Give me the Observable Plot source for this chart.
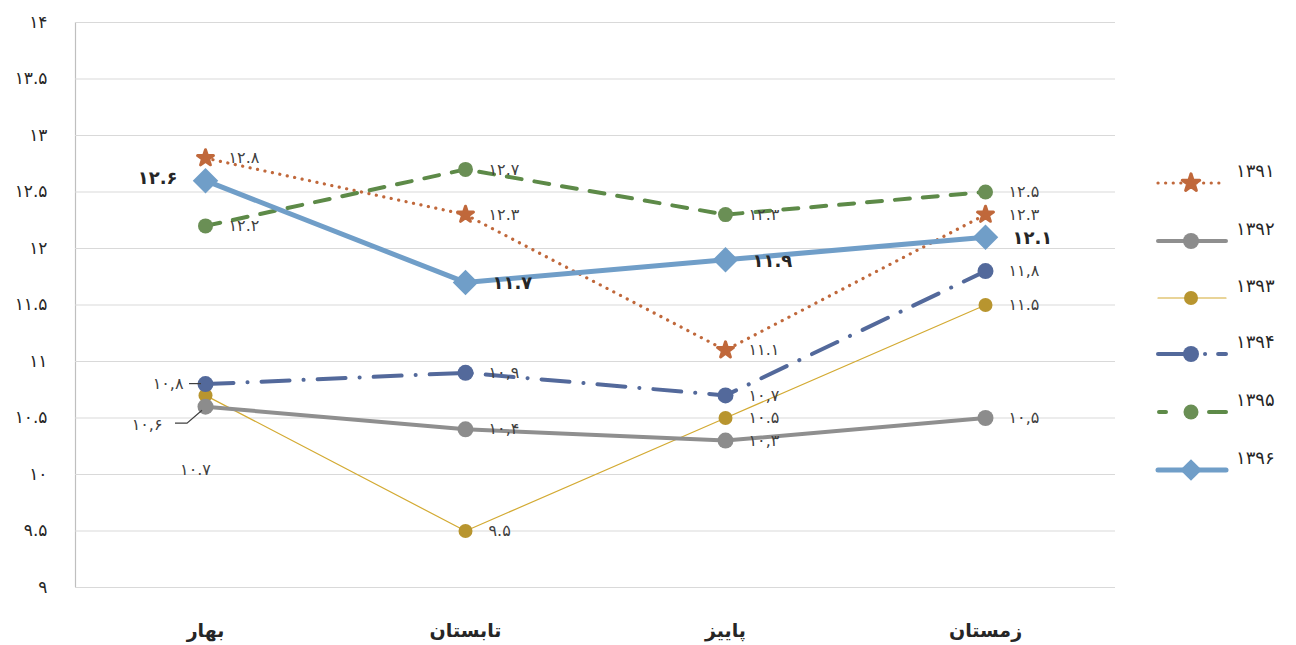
<!DOCTYPE html>
<html>
<head>
<meta charset="utf-8">
<script src="https://cdn.jsdelivr.net/npm/d3@7"></script>
<script src="https://cdn.jsdelivr.net/npm/@observablehq/plot@0.6"></script>
<style>
  html, body { margin: 0; padding: 0; background: #fff; }
  #wrap { position: relative; width: 1296px; height: 645px; }
  #legend { position: absolute; left: 0; top: 0; pointer-events: none; }
</style>
</head>
<body>
<div id="wrap"></div>
<script>
// ---- data ----
const seasons = ["بهار", "تابستان", "پاییز", "زمستان"];
const years = ["۱۳۹۱", "۱۳۹۲", "۱۳۹۳", "۱۳۹۴", "۱۳۹۵", "۱۳۹۶"];
const v1391 = [12.8, 12.3, 11.1, 12.3];
const v1392 = [10.6, 10.4, 10.3, 10.5];
const v1393 = [10.7, 9.5, 10.5, 11.5];
const v1394 = [10.8, 10.9, 10.7, 11.8];
const v1395 = [12.2, 12.7, 12.3, 12.5];
const v1396 = [12.6, 11.7, 11.9, 12.1];
const l1391 = ["۱۲.۸", "۱۲.۳", "۱۱.۱", "۱۲.۳"];
const l1392 = ["۱۰,۶", "۱۰,۴", "۱۰,۳", "۱۰,۵"];
const l1393 = ["۱۰.۷", "۹.۵", "۱۰.۵", "۱۱.۵"];
const l1394 = ["۱۰,۸", "۱۰,۹", "۱۰,۷", "۱۱,۸"];
const l1395 = ["۱۲.۲", "۱۲.۷", "۱۲.۳", "۱۲.۵"];
const l1396 = ["۱۲.۶", "۱۱.۷", "۱۱.۹", "۱۲.۱"];
const yTicks = [9, 9.5, 10, 10.5, 11, 11.5, 12, 12.5, 13, 13.5, 14];

const seriesValues = [v1391, v1392, v1393, v1394, v1395, v1396];
const seriesLabels = [l1391, l1392, l1393, l1394, l1395, l1396];

// ---- styles ----
const styles = {
  "۱۳۹۱": {stroke: "#c0683b", width: 3.2, dash: "0.1 7.5", cap: "round", mark: "star", mfill: "#c0683b", r: 5},
  "۱۳۹۲": {stroke: "#8f8f8f", width: 4, dash: null, cap: "round", mark: "circle", mfill: "#8c8c8c", r: 8},
  "۱۳۹۳": {stroke: "#d3aa32", width: 1.2, dash: null, cap: "round", mark: "circle", mfill: "#b8952f", r: 7},
  "۱۳۹۴": {stroke: "#53699b", width: 4, dash: "28 14 0.1 14", cap: "round", mark: "circle", mfill: "#53699b", r: 8},
  "۱۳۹۵": {stroke: "#5d8a48", width: 4, dash: "15 13", cap: "round", mark: "circle", mfill: "#6a8f55", r: 7.5},
  "۱۳۹۶": {stroke: "#709ec8", width: 5, dash: null, cap: "round", mark: "diamond2", mfill: "#709ec8", r: 11.5}
};

const rows = [];
years.forEach((yr, i) => {
  seasons.forEach((s, j) => {
    rows.push({year: yr, season: s, value: seriesValues[i][j], label: seriesLabels[i][j]});
  });
});

const fa = s => String(s).replace(/[0-9]/g, d => "۰۱۲۳۴۵۶۷۸۹"[+d]);
const FONT = "DejaVu Sans, Noto Sans, sans-serif";

const marks = [];
// gridlines
marks.push(Plot.ruleY(yTicks, {stroke: "#d9d9d9", strokeWidth: 1.2}));

// draw order: bottom first
const drawOrder = ["۱۳۹۳", "۱۳۹۲", "۱۳۹۴", "۱۳۹۱", "۱۳۹۵", "۱۳۹۶"];
for (const yr of drawOrder) {
  const st = styles[yr];
  const d = rows.filter(r => r.year === yr);
  marks.push(Plot.line(d, {
    x: "season", y: "value", stroke: st.stroke, strokeWidth: st.width,
    strokeDasharray: st.dash, strokeLinecap: st.cap, strokeLinejoin: "round", curve: "linear"
  }));
}
for (const yr of drawOrder) {
  const st = styles[yr];
  const d = rows.filter(r => r.year === yr);
  marks.push(Plot.dot(d, {
    x: "season", y: "value", symbol: st.mark, r: st.r, fill: st.mfill,
    stroke: st.mark === "star" ? st.mfill : "none", strokeWidth: st.mark === "star" ? 3 : 0,
    strokeLinejoin: "round"
  }));
}

// leader lines for two Spring labels (drawn from scales)
marks.push((index, scales) => {
  const g = d3.create("svg:g");
  const x0 = scales.x(seasons[0]);
  const y92 = scales.y(v1392[0]);
  const y94 = scales.y(v1394[0]);
  g.append("path")
    .attr("d", `M${x0 - 30},${y92 + 17} H${x0 - 18} L${x0 - 3},${y92 + 4}`)
    .attr("fill", "none").attr("stroke", "#404040").attr("stroke-width", 1.2);
  g.append("path")
    .attr("d", `M${x0 - 16},${y94} H${x0 - 4}`)
    .attr("fill", "none").attr("stroke", "#404040").attr("stroke-width", 1.2);
  return g.node();
});

// labels
const isSpring = r => r.season === seasons[0];
const normal = rows.filter(r => !(isSpring(r) && ["۱۳۹۲", "۱۳۹۳", "۱۳۹۴", "۱۳۹۶"].includes(r.year)));
marks.push(Plot.text(normal.filter(r => r.year !== "۱۳۹۶"), {
  x: "season", y: "value", text: "label", dx: 23, textAnchor: "start",
  fontSize: 16, fill: "#404040", fontFamily: FONT
}));
marks.push(Plot.text(normal.filter(r => r.year === "۱۳۹۶"), {
  x: "season", y: "value", text: "label", dx: 27, dy: 1, textAnchor: "start",
  fontSize: 18, fontWeight: "bold", fill: "#262626", fontFamily: FONT
}));
marks.push(Plot.text(rows.filter(r => isSpring(r) && r.year === "۱۳۹۶"), {
  x: "season", y: "value", text: "label", dx: -28, dy: -2, textAnchor: "end",
  fontSize: 18, fontWeight: "bold", fill: "#262626", fontFamily: FONT
}));
marks.push(Plot.text(rows.filter(r => isSpring(r) && r.year === "۱۳۹۴"), {
  x: "season", y: "value", text: "label", dx: -22, textAnchor: "end",
  fontSize: 16, fill: "#404040", fontFamily: FONT
}));
marks.push(Plot.text(rows.filter(r => isSpring(r) && r.year === "۱۳۹۲"), {
  x: "season", y: "value", text: "label", dx: -43, dy: 18, textAnchor: "end",
  fontSize: 16, fill: "#404040", fontFamily: FONT
}));
marks.push(Plot.text(rows.filter(r => isSpring(r) && r.year === "۱۳۹۳"), {
  x: "season", y: "value", text: "label", dx: -10, dy: 74, textAnchor: "middle",
  fontSize: 16, fill: "#404040", fontFamily: FONT
}));

// axes
marks.push(Plot.axisY({
  ticks: yTicks, tickSize: 0, tickPadding: 28, tickFormat: d => fa(d),
  fontSize: 17, fill: "#262626", fontFamily: FONT, label: null
}));
marks.push(Plot.axisX({
  tickSize: 0, tickPadding: 36, fontSize: 19, fontWeight: "bold", fill: "#262626", fontFamily: FONT, label: null
}));

const chart = Plot.plot({
  width: 1296,
  height: 645,
  marginLeft: 75,
  marginRight: 181,
  marginTop: 22,
  marginBottom: 58,
  style: {fontFamily: FONT, background: "#fff", overflow: "visible"},
  x: {type: "point", domain: seasons, padding: 0.5},
  y: {domain: [9, 14]},
  marks
});
document.getElementById("wrap").appendChild(chart);

// left axis line (vertical) drawn from scales
{
  const svg = d3.select(chart);
  const ys = chart.scale("y");
  svg.insert("line", ":first-child")
    .attr("x1", 75.5).attr("x2", 75.5)
    .attr("y1", ys.apply(14)).attr("y2", ys.apply(9))
    .attr("stroke", "#bfbfbf").attr("stroke-width", 1.2);
}

// ---- legend ----
const legendY = [183, 241, 298, 354, 412, 470];
const lg = d3.select("#wrap").append("svg").attr("id", "legend")
  .attr("width", 1296).attr("height", 645);
years.forEach((yr, i) => {
  const st = styles[yr];
  const y = legendY[i];
  const g = lg.append("g");
  if (yr === "۱۳۹۴") {
    g.append("line").attr("x1", 1158).attr("x2", 1190).attr("y1", y).attr("y2", y)
      .attr("stroke", st.stroke).attr("stroke-width", st.width).attr("stroke-linecap", "round");
    g.append("line").attr("x1", 1205).attr("x2", 1226).attr("y1", y).attr("y2", y)
      .attr("stroke", st.stroke).attr("stroke-width", st.width).attr("stroke-linecap", "round")
      .attr("stroke-dasharray", "0.1 13 8 20");
  } else if (yr === "۱۳۹۵") {
    g.append("line").attr("x1", 1159).attr("x2", 1226).attr("y1", y).attr("y2", y)
      .attr("stroke", st.stroke).attr("stroke-width", st.width).attr("stroke-linecap", "round")
      .attr("stroke-dasharray", "7 43");
    g.append("line").attr("x1", 1217).attr("x2", 1226).attr("y1", y).attr("y2", y)
      .attr("stroke", st.stroke).attr("stroke-width", st.width).attr("stroke-linecap", "round");
  } else {
    g.append("line").attr("x1", 1158).attr("x2", 1226).attr("y1", y).attr("y2", y)
      .attr("stroke", st.stroke).attr("stroke-width", st.width).attr("stroke-linecap", "round")
      .attr("stroke-dasharray", st.dash);
  }
  const sym = {circle: d3.symbolCircle, star: d3.symbolStar, diamond2: d3.symbolDiamond2}[st.mark];
  const size = st.mark === "diamond2" ? 300 : Math.PI * st.r * st.r * (st.mark === "star" ? 1.2 : 1);
  g.append("path").attr("d", d3.symbol(sym, size)())
    .attr("transform", `translate(1191,${y})`).attr("fill", st.mfill)
    .attr("stroke", st.mark === "star" ? st.mfill : "none").attr("stroke-width", 3).attr("stroke-linejoin", "round");
  g.append("text").attr("x", 1236).attr("y", y - 11).attr("dominant-baseline", "middle")
    .attr("font-family", FONT).attr("font-size", 18).attr("fill", "#262626").text(yr);
});
</script>
</body>
</html>
